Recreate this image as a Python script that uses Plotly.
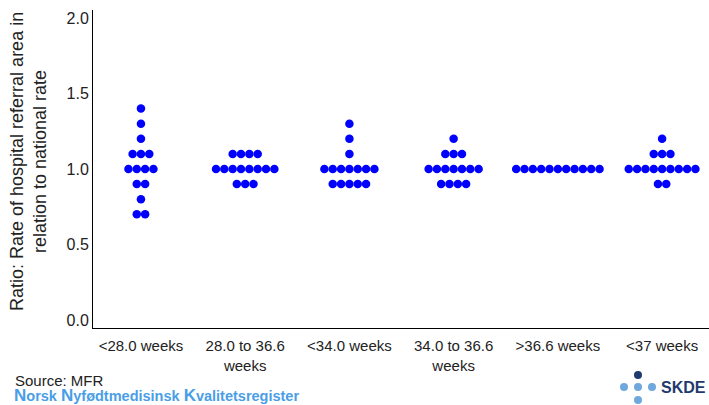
import plotly.graph_objects as go
from collections import Counter

# Kategorier (svangerskapslengde) og ratioer per opptaksområde
categories = ["<28.0 weeks", "28.0 to 36.6<br>weeks", "<34.0 weeks",
              "34.0 to 36.6<br>weeks", ">36.6 weeks", "<37 weeks"]

ratio_lt28 = [1.4, 1.3, 1.2, 1.1, 1.1, 1.1, 1.0, 1.0, 1.0, 1.0, 0.9, 0.9, 0.8, 0.7, 0.7]
ratio_28_366 = [1.1, 1.1, 1.1, 1.1, 1.0, 1.0, 1.0, 1.0, 1.0, 1.0, 1.0, 1.0, 0.9, 0.9, 0.9]
ratio_lt34 = [1.3, 1.2, 1.1, 1.0, 1.0, 1.0, 1.0, 1.0, 1.0, 1.0, 0.9, 0.9, 0.9, 0.9, 0.9]
ratio_34_366 = [1.2, 1.1, 1.1, 1.1, 1.0, 1.0, 1.0, 1.0, 1.0, 1.0, 1.0, 0.9, 0.9, 0.9, 0.9]
ratio_gt366 = [1.0, 1.0, 1.0, 1.0, 1.0, 1.0, 1.0, 1.0, 1.0, 1.0, 1.0]
ratio_lt37 = [1.2, 1.1, 1.1, 1.1, 1.0, 1.0, 1.0, 1.0, 1.0, 1.0, 1.0, 1.0, 1.0, 0.9, 0.9]

series = [ratio_lt28, ratio_28_366, ratio_lt34, ratio_34_366, ratio_gt366, ratio_lt37]

y_ticks = [0.0, 0.5, 1.0, 1.5, 2.0]

FONT = "Arial, Liberation Sans, sans-serif"
TXT = "#222222"
dot_step = 0.08  # horisontal avstand mellom prikker med lik verdi

# plotteområde i piksler
L, R, T, B = 93, 709, 10, 328
W, H = 709, 405


def px_x(px):
    return (px - L) / (R - L)


def px_y(py):
    return (B - py) / (B - T)


xs, ys = [], []
for i, vals in enumerate(series):
    counts = Counter(vals)
    seen = Counter()
    for v in vals:
        n = counts[v]
        k = seen[v]
        seen[v] += 1
        xs.append(i + (k - (n - 1) / 2) * dot_step)
        ys.append(v)

fig = go.Figure()
fig.add_trace(go.Scatter(
    x=xs, y=ys, mode="markers",
    marker=dict(color="#0000ff", size=8.5, line=dict(width=0)),
    hoverinfo="y", showlegend=False,
))

fig.update_layout(
    width=W, height=H,
    margin=dict(l=L, r=W - R, t=T, b=H - B, autoexpand=False),
    paper_bgcolor="white", plot_bgcolor="white",
    font=dict(family=FONT, size=15, color=TXT),
)
fig.update_xaxes(
    range=[-0.46, 5.45], automargin=False,
    tickvals=list(range(len(categories))), ticktext=categories,
    showgrid=False, zeroline=False, showline=True, linecolor="black", linewidth=1,
    ticks="", tickfont=dict(size=15, color=TXT), ticklabelstandoff=4,
)
fig.update_yaxes(
    range=[-0.053, 2.053], automargin=False,
    tickvals=y_ticks, ticktext=[f"{t:.1f}" for t in y_ticks],
    showgrid=False, zeroline=False, showline=True, linecolor="black", linewidth=1,
    ticks="", tickfont=dict(size=16, color=TXT),
)

# y-aksetittel
fig.add_annotation(x=px_x(28), y=px_y(162), xref="paper", yref="paper",
                   text="Ratio: Rate of hospital referral area in<br>relation to national rate",
                   textangle=-90, showarrow=False, xanchor="center", yanchor="middle",
                   font=dict(size=18, color=TXT))

# Kilde og registernavn
fig.add_annotation(x=px_x(13), y=px_y(380), xref="paper", yref="paper", text="Source: MFR",
                   showarrow=False, xanchor="left", yanchor="middle",
                   font=dict(size=15, color=TXT))
reg_blue = "#4a9ee6"
reg_text = ("<b><span style='font-size:17px'>N</span>orsk "
            "<span style='font-size:17px'>N</span>yfødtmedisinsk "
            "<span style='font-size:17px'>K</span>valitetsregister</b>")
fig.add_annotation(x=px_x(12), y=px_y(395), xref="paper", yref="paper", text=reg_text,
                   showarrow=False, xanchor="left", yanchor="middle",
                   font=dict(size=14.5, color=reg_blue,
                             family="Liberation Sans Narrow, Arial Narrow, " + FONT))

# SKDE-logo
navy = "#1f3a6e"
light = "#6fa8dc"
dots = [(638, 375, navy), (624, 387, light), (638, 387, light), (652, 387, light), (638, 400, light)]
for cx, cy, col in dots:
    fig.add_shape(type="circle", xref="paper", yref="paper",
                  x0=px_x(cx - 4), x1=px_x(cx + 4), y0=px_y(cy + 4), y1=px_y(cy - 4),
                  fillcolor=col, line=dict(width=0))
fig.add_annotation(x=px_x(683), y=px_y(387), xref="paper", yref="paper",
                   text="<b>SKDE</b>", showarrow=False,
                   xanchor="center", yanchor="middle",
                   font=dict(size=16, color=navy))

# fjern standardmarg rundt body slik at figuren fyller vinduet
fig.write_html("out.html", config={"displayModeBar": False},
               post_script="document.body.style.margin='0';")
